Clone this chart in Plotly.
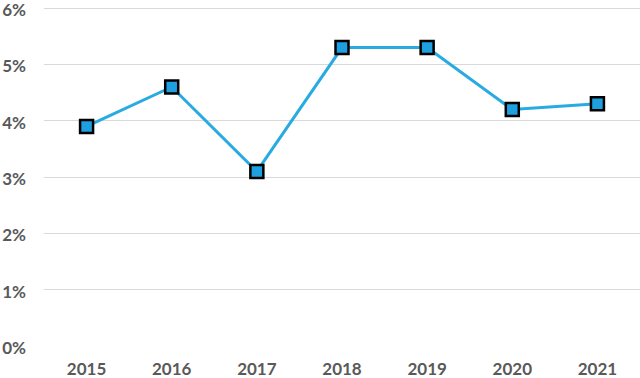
import plotly.graph_objects as go

years = ["2015", "2016", "2017", "2018", "2019", "2020", "2021"]
rates = [3.9, 4.6, 3.1, 5.3, 5.3, 4.2, 4.3]
y_ticks = [0, 1, 2, 3, 4, 5, 6]
y_tick_labels = ["0%", "1%", "2%", "3%", "4%", "5%", "6%"]

fig = go.Figure(go.Scatter(
    x=years, y=rates, mode="lines+markers",
    line=dict(color="#29ABE2", width=3),
    marker=dict(symbol="square", size=13, color="#1E9FE0",
                line=dict(color="#000000", width=2.5)),
    cliponaxis=False,
))

tf = dict(family="Lato, Open Sans, sans-serif", size=17, color="#595959", weight="bold")
fig.update_layout(
    width=640, height=378,
    margin=dict(l=44, r=0, t=7, b=32),
    paper_bgcolor="white", plot_bgcolor="white",
    showlegend=False,
)
fig.update_xaxes(type="category", range=[-0.5, len(years) - 0.5],
                 showgrid=False, showline=False, ticks="",
                 tickfont=tf, ticklabelstandoff=11, automargin=False,
                 ticklabeloverflow="allow")
fig.update_yaxes(range=[0, 6.02], tickvals=y_ticks, ticktext=y_tick_labels,
                 showgrid=True, gridcolor="#D9D9D9", gridwidth=1,
                 zeroline=False, showline=False, ticks="",
                 tickfont=tf, ticklabelstandoff=17, automargin=False,
                 ticklabeloverflow="allow", ticklabelshift=2)
fig.write_html("out.html", config={"displayModeBar": False},
               post_script="document.body.style.margin='0';document.body.style.overflow='hidden';")
